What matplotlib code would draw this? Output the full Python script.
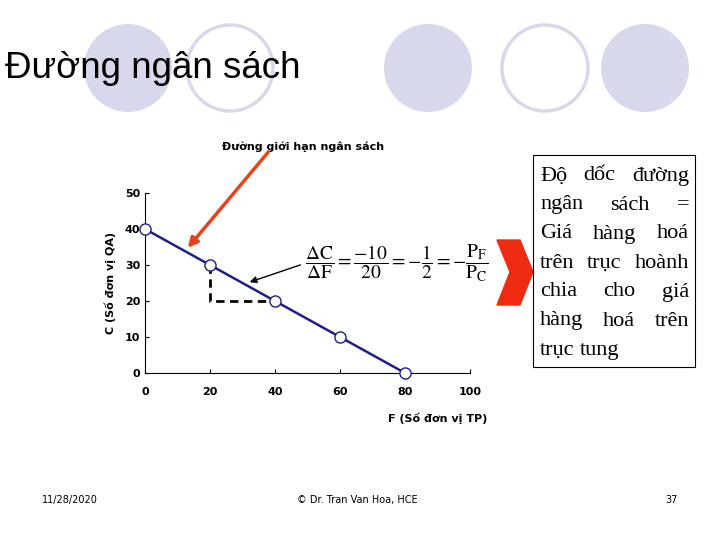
import matplotlib
matplotlib.use("Agg")
import matplotlib.pyplot as plt
from matplotlib.patches import Ellipse, Polygon, Rectangle

F = [0, 20, 40, 60, 80]
C = [40, 30, 20, 10, 0]
xticks = [0, 20, 40, 60, 80, 100]
yticks = [0, 10, 20, 30, 40, 50]
box_lines = ["Độ dốc đường", "ngân sách =", "Giá hàng hoá", "trên trục hoành",
             "chia cho giá", "hàng hoá trên", "trục tung"]

fig = plt.figure(figsize=(7.2, 5.4), dpi=100)
bg = fig.add_axes([0, 0, 1, 1])
bg.set_xlim(0, 720); bg.set_ylim(540, 0); bg.axis("off")

lav = "#d8d8ec"
for cx, filled in [(128, True), (230, False), (428, True), (545, False), (645, True)]:
    if filled:
        bg.add_patch(Ellipse((cx, 68), 88, 88, facecolor=lav, edgecolor="none"))
    else:
        bg.add_patch(Ellipse((cx, 68), 86, 86, facecolor="white", edgecolor=lav, lw=2.5))
bg.text(5, 69, "Đường ngân sách", fontsize=26.5, va="center", ha="left", family="Liberation Sans")

# chart
ax = fig.add_axes([145/720, 1-373/540, 325/720, 180/540])
ax.patch.set_alpha(0)
ax.plot(F, C, color="#1f1f8a", lw=1.8, marker="o", ms=8, mfc="white", mec="#1f1f8a", mew=1, zorder=3, clip_on=False)
ax.plot([20, 20, 40], [30, 20, 20], color="black", lw=2, ls=(0, (3, 2)), zorder=2)
ax.set_xlim(0, 100); ax.set_ylim(0, 50)
ax.set_xticks(xticks); ax.set_yticks(yticks)
for s in ["top", "right"]:
    ax.spines[s].set_visible(False)
ax.tick_params(labelsize=8, length=3, direction="in")
for lab in ax.get_xticklabels() + ax.get_yticklabels():
    lab.set_fontweight("bold")
ax.tick_params(axis="x", pad=10)
ax.set_ylabel("C (Số đơn vị QA)", fontsize=8, fontweight="bold", labelpad=6)

ov = fig.add_axes([0, 0, 1, 1])
ov.set_xlim(0, 720); ov.set_ylim(540, 0); ov.axis("off"); ov.patch.set_alpha(0)
ov.text(487, 418, "F (Số đơn vị TP)", fontsize=8, fontweight="bold", ha="right", va="center")
ov.text(303, 147, "Đường giới hạn ngân sách", fontsize=8, fontweight="bold", ha="center", va="center")

ov.annotate("", xy=(186, 250), xytext=(270, 150),
            arrowprops=dict(arrowstyle="-|>", color="#e8431c", lw=2.5, mutation_scale=14))
ov.annotate("", xy=(247, 283), xytext=(303, 264),
            arrowprops=dict(arrowstyle="-|>", color="black", lw=1, mutation_scale=10))
ov.text(397, 263, r"$\dfrac{\Delta \mathrm{C}}{\Delta \mathrm{F}}=\dfrac{-10}{20}=-\dfrac{1}{2}=-\dfrac{\mathrm{P_F}}{\mathrm{P_C}}$",
        fontsize=14, ha="center", va="center", math_fontfamily="stix")

ov.add_patch(Polygon([(497, 240), (520, 240), (533, 272), (520, 305), (497, 305), (510, 272)],
                     closed=True, facecolor="#ee2a10", edgecolor="#ee2a10"))
ov.add_patch(Rectangle((533, 155), 162, 212, facecolor="white", edgecolor="black", lw=0.8))

fig.canvas.draw()
r = fig.canvas.get_renderer()
inv = ov.transData.inverted()
left, right = 540, 689
for i, line in enumerate(box_lines):
    y = 176 + i * 29
    words = line.split()
    last = (i == len(box_lines) - 1)
    ts = [ov.text(0, y, w, fontsize=16, family="Liberation Serif", va="center", ha="left") for w in words]
    widths = []
    for t in ts:
        bb = t.get_window_extent(r)
        x0 = inv.transform((bb.x0, bb.y0))[0]; x1 = inv.transform((bb.x1, bb.y0))[0]
        widths.append(x1 - x0)
    gap = 5 if last or len(words) == 1 else (right - left - sum(widths)) / (len(words) - 1)
    x = left
    for t, w in zip(ts, widths):
        t.set_x(x); x += w + gap

ov.text(70, 500, "11/28/2020", fontsize=7, ha="center", va="center")
ov.text(357, 500, "© Dr. Tran Van Hoa, HCE", fontsize=7, ha="center", va="center")
ov.text(671, 500, "37", fontsize=7, ha="center", va="center")

fig.savefig("out.png", dpi=100)
